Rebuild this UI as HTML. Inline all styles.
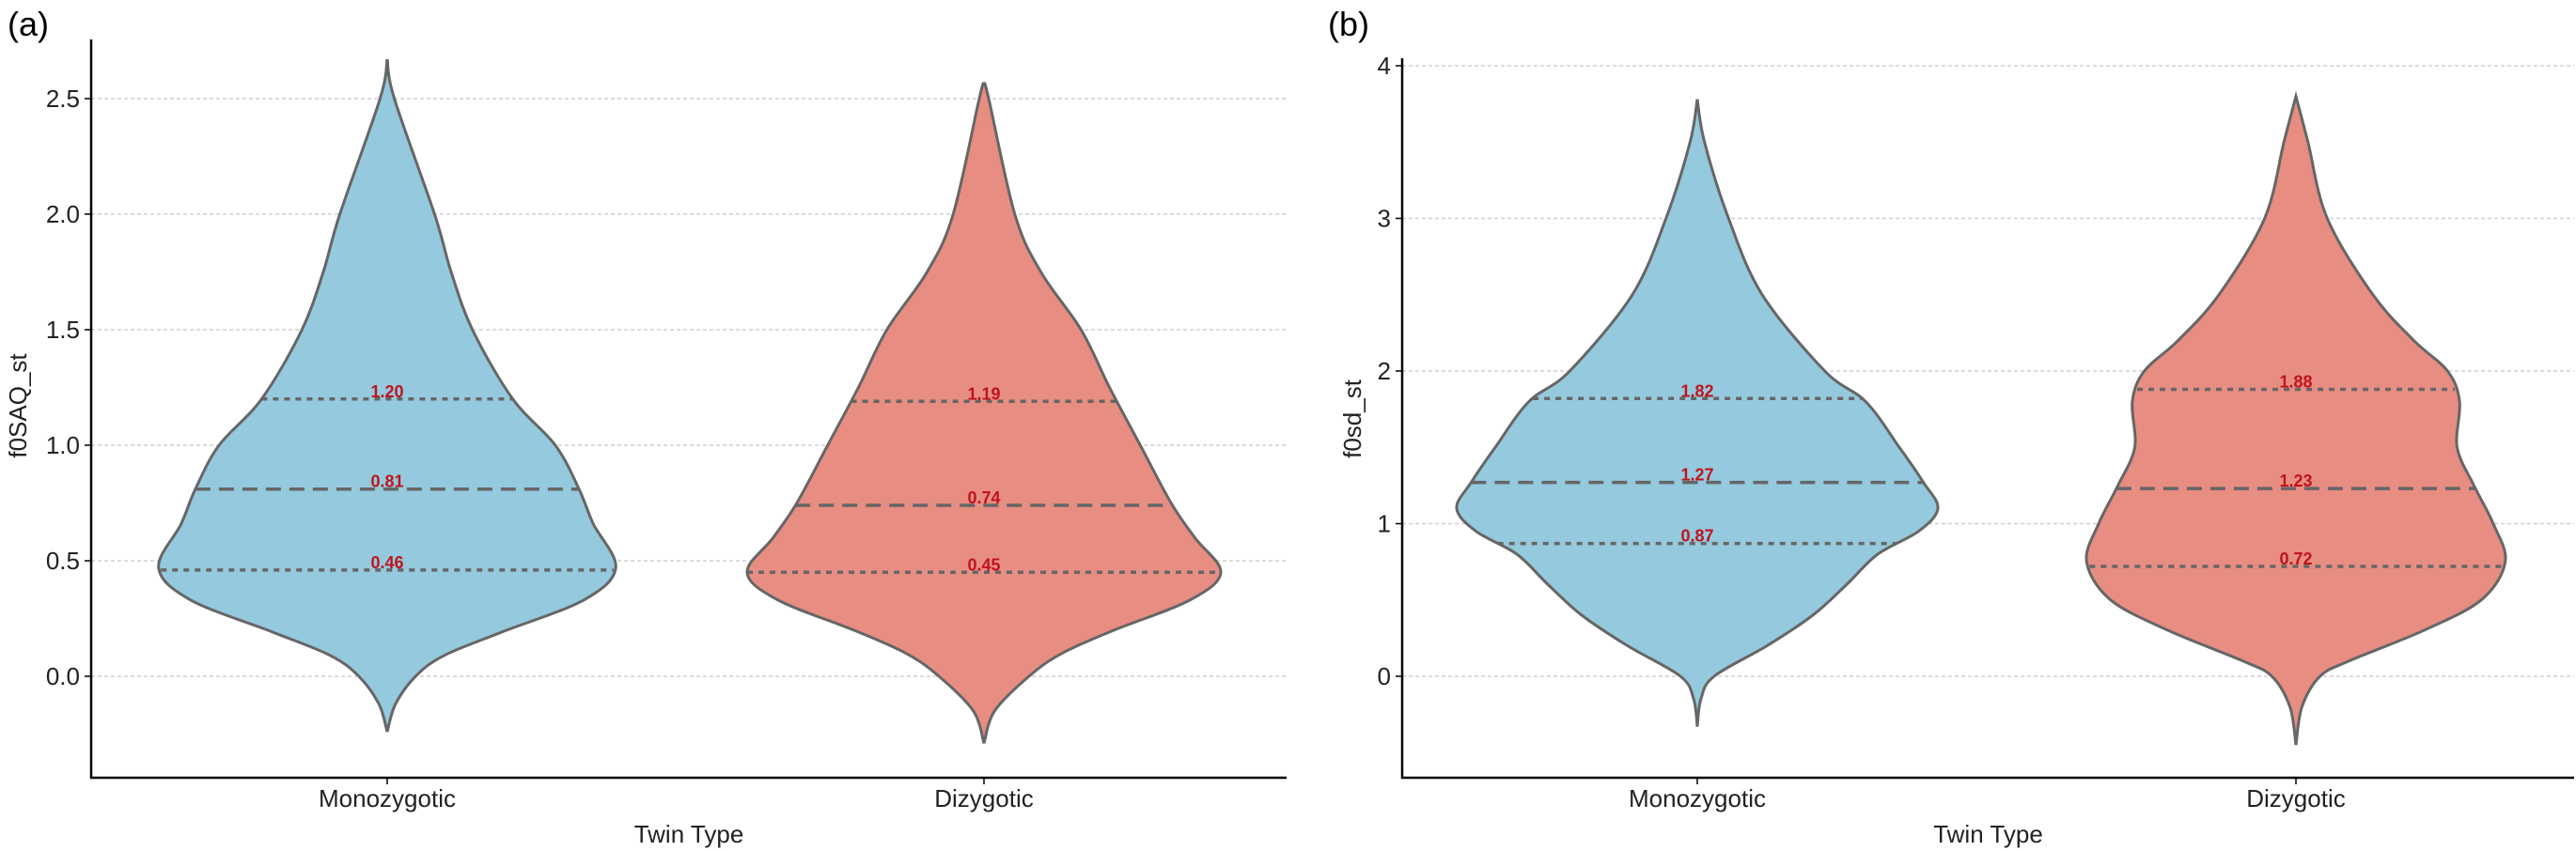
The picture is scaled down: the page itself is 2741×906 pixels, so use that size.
<!DOCTYPE html>
<html><head><meta charset="utf-8"><style>
body{margin:0;background:#fff;}
svg{display:block;font-family:"Liberation Sans","DejaVu Sans",sans-serif;}
</style></head><body>
<svg id="chart" width="2741" height="906" viewBox="0 0 2741 906"></svg>
<script>
const categories = ["Monozygotic","Dizygotic"];
const colors = ["#95C9DE","#E88D82"];
// Panel a profiles: [value, relative density]
const aMonoVals = [2.67,2.5,2.0,1.75,1.5,1.2,1.0,0.81,0.66,0.47,0.33,0.19,0.09,0.0,-0.12,-0.24];
const aMonoDens = [0,0.03,0.2,0.27,0.36,0.53,0.71,0.81,0.87,0.965,0.83,0.48,0.24,0.12,0.035,0];
const aDizVals = [2.57,2.5,2.0,1.75,1.5,1.25,1.0,0.75,0.6,0.45,0.33,0.2,0.1,0.0,-0.15,-0.29];
const aDizDens = [0,0.02,0.13,0.24,0.41,0.53,0.66,0.79,0.89,1.0,0.87,0.55,0.33,0.19,0.045,0];
const aQuart = [[0.46,0.81,1.20],[0.45,0.74,1.19]];
const aQuartLabels = [["0.46","0.81","1.20"],["0.45","0.74","1.19"]];
const aTicks = [0,0.5,1.0,1.5,2.0,2.5];
const aTickLabels = ["0.0","0.5","1.0","1.5","2.0","2.5"];
// Panel b profiles
const bMonoVals = [3.78,3.5,3.0,2.5,2.0,1.8,1.5,1.27,1.1,0.95,0.8,0.6,0.4,0.2,0.0,-0.15,-0.33];
const bMonoDens = [0,0.03,0.13,0.27,0.53,0.7,0.84,0.94,1.0,0.92,0.75,0.62,0.48,0.29,0.07,0.015,0];
const bDizVals = [3.8,3.5,3.0,2.5,2.2,2.0,1.8,1.5,1.25,1.0,0.75,0.5,0.3,0.1,0.0,-0.2,-0.45];
const bDizDens = [0,0.05,0.13,0.32,0.49,0.63,0.68,0.67,0.74,0.82,0.87,0.77,0.53,0.22,0.10,0.025,0];
const bQuart = [[0.87,1.27,1.82],[0.72,1.23,1.88]];
const bQuartLabels = [["0.87","1.27","1.82"],["0.72","1.23","1.88"]];
const bTicks = [0,1,2,3,4];
const bTickLabels = ["0","1","2","3","4"];

const NS="http://www.w3.org/2000/svg";
const svg=document.getElementById('chart');
function mk(tag,attrs,parent){const e=document.createElementNS(NS,tag);for(const k in attrs)e.setAttribute(k,attrs[k]);(parent||svg).appendChild(e);return e;}

function interp(vals,dens,v){
  for(let i=0;i<vals.length-1;i++){
    const a=vals[i],b=vals[i+1];
    if((v<=a&&v>=b)){const t=(v-a)/(b-a);return dens[i]+(dens[i+1]-dens[i])*t;}
  }
  return 0;
}
function catmull(pts){
  let d="M"+pts[0][0]+","+pts[0][1];
  for(let i=0;i<pts.length-1;i++){
    const p0=pts[i-1]||pts[i],p1=pts[i],p2=pts[i+1],p3=pts[i+2]||p2;
    const c1=[p1[0]+(p2[0]-p0[0])/6,p1[1]+(p2[1]-p0[1])/6];
    const c2=[p2[0]-(p3[0]-p1[0])/6,p2[1]-(p3[1]-p1[1])/6];
    d+=" C"+c1[0].toFixed(1)+","+c1[1].toFixed(1)+" "+c2[0].toFixed(1)+","+c2[1].toFixed(1)+" "+p2[0].toFixed(1)+","+p2[1].toFixed(1);
  }
  return d;
}

function panel(cfg){
  const g=mk('g',{});
  
  
  const y=v=>cfg.y0-v*cfg.ppu;
  cfg.ticks.forEach((t,i)=>{
    const gl=mk('line',{x1:cfg.left,x2:cfg.right,y1:y(t),y2:y(t),stroke:'#cfcfcf','stroke-width':1.5,'stroke-dasharray':'4,3'},g);
    
    
    const tk=mk('line',{x1:cfg.left-7,x2:cfg.left,y1:y(t),y2:y(t),stroke:'#000','stroke-width':1.5},g);
    
    
    const tl=mk('text',{x:cfg.left-12,y:y(t)+9,'text-anchor':'end','font-size':26,fill:'#222'},g);
    tl.textContent=cfg.tickLabels[i];
    
    
  });
  cfg.violins.forEach((vl,ci)=>{
    const cx=cfg.cx[ci];
    const right=vl.vals.map((v,i)=>[cx+vl.dens[i]*cfg.maxW,y(v)]);
    const left=vl.vals.slice().reverse().map((v,i)=>{const d=vl.dens[vl.vals.length-1-i];return [cx-d*cfg.maxW,y(v)];});
    const dR=catmull(right);
    const dL=catmull(left).replace(/^M[^C]*/,'');
    const p=mk('path',{d:dR+" L"+left[0][0]+","+left[0][1]+dL+" Z",fill:colors[ci],stroke:'#666','stroke-width':3},g);
    
    
    vl.q.forEach((q,qi)=>{
      const w=interp(vl.vals,vl.dens,q)*cfg.maxW;
      const ln=mk('line',{x1:cx-w,x2:cx+w,y1:y(q),y2:y(q),stroke:'#666','stroke-width':3.5,'stroke-dasharray':qi==1?'16,9':'6,6'},g);
      
      
      const t=mk('text',{x:cx,y:y(q)-2,'text-anchor':'middle','font-size':18,'font-weight':'bold',fill:'#c0141c'},g);
      t.textContent=vl.ql[qi];
      
      
    });
    const xt=mk('line',{x1:cx,x2:cx,y1:cfg.bottom,y2:cfg.bottom+7,stroke:'#000','stroke-width':1.5},g);
    
    
    const xl=mk('text',{x:cx,y:cfg.bottom+31,'text-anchor':'middle','font-size':26,fill:'#222'},g);
    xl.textContent=categories[ci];
    
    
  });
  const ax=mk('path',{d:`M${cfg.left},${cfg.top} V${cfg.bottom} H${cfg.right}`,fill:'none',stroke:'#000','stroke-width':2.5},g);
  
  
  const xt=mk('text',{x:(cfg.left+cfg.right)/2,y:cfg.bottom+69,'text-anchor':'middle','font-size':26,fill:'#222'},g);
  xt.textContent='Twin Type';
  
  
  const yt=mk('text',{x:0,y:0,transform:`translate(${cfg.ylx},${cfg.yly}) rotate(-90)`,'text-anchor':'middle','font-size':26,fill:'#222'},g);
  yt.textContent=cfg.ytitle;
  
  
  const pl=mk('text',{x:cfg.plx,y:38,'font-size':36,fill:'#000'},g);
  pl.textContent=cfg.plabel;
  
  
}

panel({name:'panel-a',left:97,right:1369,top:42,bottom:828,y0:720,ppu:246,maxW:252,cx:[412,1047],
  ticks:aTicks,tickLabels:aTickLabels,ytitle:'f0SAQ_st',ylx:28,yly:432,plabel:'(a)',plx:8,
  violins:[{vals:aMonoVals,dens:aMonoDens,q:aQuart[0],ql:aQuartLabels[0]},{vals:aDizVals,dens:aDizDens,q:aQuart[1],ql:aQuartLabels[1]}]});
panel({name:'panel-b',left:1492,right:2739,top:62,bottom:828,y0:720,ppu:162.5,maxW:256,cx:[1806,2443],
  ticks:bTicks,tickLabels:bTickLabels,ytitle:'f0sd_st',ylx:1448,yly:446,plabel:'(b)',plx:1413,
  violins:[{vals:bMonoVals,dens:bMonoDens,q:bQuart[0],ql:bQuartLabels[0]},{vals:bDizVals,dens:bDizDens,q:bQuart[1],ql:bQuartLabels[1]}]});
</script>
</body></html>
